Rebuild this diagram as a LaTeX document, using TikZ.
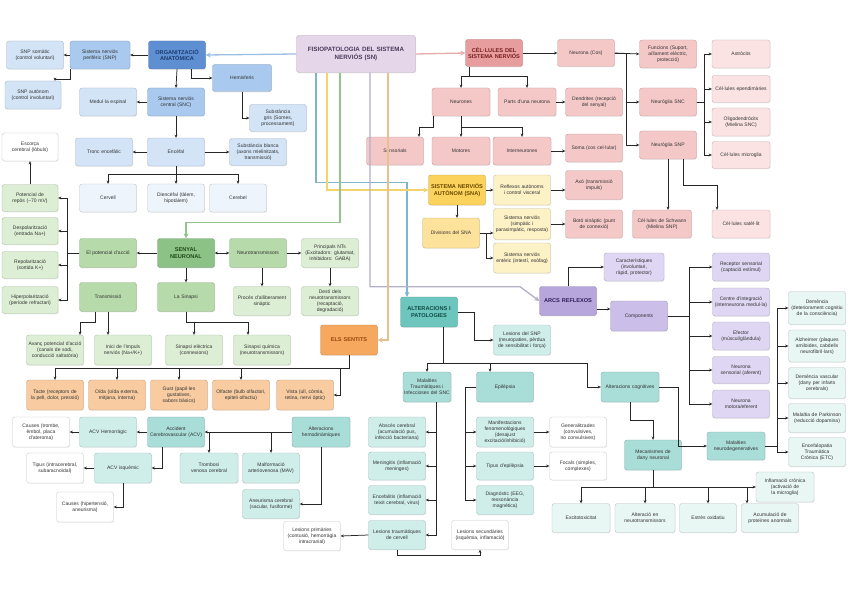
\documentclass[tikz,border=0pt]{standalone}
\usepackage{fontspec}
\setmainfont{Liberation Sans}
\usetikzlibrary{arrows.meta,shadows}
\hyphenpenalty=10000
\exhyphenpenalty=10000

\definecolor{bluedk}{HTML}{5E8FD3}
\definecolor{bluemd}{HTML}{A9C9EE}
\definecolor{bluelt}{HTML}{D3E4F7}
\definecolor{bluepl}{HTML}{EEF4FC}
\definecolor{titlebg}{HTML}{E5D6EA}
\definecolor{pinkdk}{HTML}{E79D9D}
\definecolor{pinkmd}{HTML}{F5C8C8}
\definecolor{pinklt}{HTML}{FBE3E3}
\definecolor{yeldk}{HTML}{FAD25C}
\definecolor{yelmd}{HTML}{FCE29A}
\definecolor{yellt}{HTML}{FDF1C6}
\definecolor{grndk}{HTML}{8DC286}
\definecolor{grnmd}{HTML}{B7DAAA}
\definecolor{grnlt}{HTML}{DCEED4}
\definecolor{orgdk}{HTML}{F5A85E}
\definecolor{orglt}{HTML}{F8CBA0}
\definecolor{purdk}{HTML}{B6A6DC}
\definecolor{purmd}{HTML}{CBBFEA}
\definecolor{purlt}{HTML}{DED6F2}
\definecolor{teldk}{HTML}{6CC6BE}
\definecolor{telmd}{HTML}{A9DDD7}
\definecolor{tellt}{HTML}{CFEEEA}
\definecolor{telpl}{HTML}{E8F6F4}
\definecolor{boxwh}{HTML}{FFFFFF}
\definecolor{lnblue}{HTML}{9CC0E4}
\definecolor{lnpink}{HTML}{E8AAAA}
\definecolor{lnteal}{HTML}{7FB5C8}
\definecolor{lnyel}{HTML}{F2D46E}
\definecolor{lngrn}{HTML}{93C48C}
\definecolor{lntan}{HTML}{E6C08E}
\definecolor{lngry}{HTML}{B3B0C9}
\definecolor{txnavy}{HTML}{1E3A6E}
\definecolor{txtitle}{HTML}{4A3A5A}
\definecolor{txred}{HTML}{7A1F1F}
\definecolor{txbrown}{HTML}{6B4A00}
\definecolor{txgreen}{HTML}{1F4A1A}
\definecolor{txorange}{HTML}{9A4A10}
\definecolor{txpurple}{HTML}{2D1F5E}
\definecolor{txteal}{HTML}{0F4A45}

\tikzset{
  bx/.style={draw=#1!78!black, fill=#1, rounded corners=2.5pt, line width=0.35pt,
    align=center, inner sep=1pt, text=black!80, font=\fontsize{5}{6}\selectfont,
    minimum width=57pt, minimum height=28pt, text width=53pt,
    drop shadow={opacity=0.12, shadow xshift=0.7pt, shadow yshift=-0.9pt}},
  hd/.style={font=\fontsize{5.6}{6.8}\selectfont\bfseries},
  arr/.style={->, line width=0.75pt, black!85},
  tl/.style={->, line width=1.3pt, >={Stealth[length=5pt,width=5pt]}},
}

\begin{document}
\begin{tikzpicture}[x=1pt,y=-1pt,>={Stealth[length=3.2pt,width=2.8pt]}]
    \fill[white] (0,0) rectangle (848,599);
    \useasboundingbox (0,0) rectangle (848,599);

    \node[bx=bluelt] (snpsom) at (35,55) {SNP somàtic\\(control voluntari)};
    \node[bx=bluemd, minimum width=60pt] (snp) at (100,55) {Sistema nerviós perifèric (SNP)};
    \node[bx=bluedk, hd, text=txnavy] (org) at (177,55) {ORGANITZACIÓ ANATÒMICA};
    \node[bx=titlebg, minimum width=119pt, text width=117pt, minimum height=37pt,
        font=\fontsize{6.2}{7.8}\selectfont\bfseries, text=txtitle] (title) at (356,54)
        {FISIOPATOLOGIA DEL SISTEMA\\NERVIÓS (SN)};
    \node[bx=bluelt, minimum width=56pt] (snpaut) at (33,95) {SNP autònom (control involuntari)};
    \node[bx=bluelt] (medul) at (108,102) {Medul·la espinal};
    \node[bx=bluemd] (snc) at (176,102) {Sistema nerviós central (SNC)};
    \node[bx=bluemd, minimum width=59pt, minimum height=27pt] (hemis) at (242,78) {Hemisferis};
    \node[bx=bluelt, minimum height=27pt] (gris) at (278,118) {Substància gris (Somes, processament)};
    \node[bx=bluelt, minimum height=27pt] (blanca) at (258,152) {Substància blanca (axons mielinitzats, transmissió)};
    \node[bx=bluelt] (encefal) at (176,152) {Encèfal};
    \node[bx=bluelt] (tronc) at (104,152) {Tronc encefàlic};
    \node[bx=boxwh, minimum width=56pt] (escorca) at (30,147) {Escorça cerebral (lòbuls)};
    \node[bx=bluepl] (cervell) at (108,198) {Cervell};
    \node[bx=bluepl] (dienc) at (176,198) {Diencèfal (tàlem, hipotàlem)};
    \node[bx=bluepl] (cerebel) at (238,198) {Cerebel};

    \node[bx=grnlt, minimum width=56pt, minimum height=27pt] (repos) at (30,198) {Potencial de repòs (−70 mV)};
    \node[bx=grnlt, minimum width=56pt, minimum height=27pt] (despol) at (30,231) {Despolarització (entrada Na+)};
    \node[bx=grnlt, minimum width=56pt, minimum height=27pt] (repol) at (30,265) {Repolarització (sortida K+)};
    \node[bx=grnlt, minimum width=56pt, minimum height=27pt] (hiper) at (30,300) {Hiperpolarització (període refractari)};
    \node[bx=grnmd, minimum height=29pt] (potencial) at (108,253) {El potencial d'acció};
    \node[bx=grndk, hd, text=txgreen, minimum height=29pt] (senyal) at (186,253) {SENYAL\\NEURONAL};
    \node[bx=grnmd, minimum height=29pt] (neurotr) at (258,253) {Neurotransmissors};
    \node[bx=grnlt, minimum height=29pt] (princ) at (330,253) {Principals NTs (Excitadors: glutamat, Inhibidors: GABA)};
    \node[bx=grnmd, minimum height=29pt] (transm) at (108,297) {Transmissió};
    \node[bx=grnmd, minimum height=29pt] (sinapsi) at (186,297) {La Sinapsi};
    \node[bx=grnlt, minimum height=29pt] (proces) at (262,301) {Procés d'alliberament sinàptic};
    \node[bx=grnlt, minimum height=29pt] (desti) at (330,301) {Destí dels neurotransmissors (recaptació, degradació)};
    \node[bx=grnlt, minimum height=30pt] (avanc) at (55,350) {Avanç potencial d'acció (canals de sodi, conducció saltatòria)};
    \node[bx=grnlt, minimum height=30pt] (inici) at (123,350) {Inici de l'impuls nerviós (Na+/K+)};
    \node[bx=grnlt, minimum height=30pt] (selec) at (194,350) {Sinapsi elèctrica (connexions)};
    \node[bx=grnlt, minimum height=30pt] (squim) at (262,350) {Sinapsi química (neurotransmissors)};

    \node[bx=orgdk, hd, text=txorange, minimum height=30pt] (senses) at (349,340) {ELS SENTITS};
    \node[bx=orglt, minimum height=30pt] (tacte) at (55,395) {Tacte (receptors de la pell, dolor, pressió)};
    \node[bx=orglt, minimum height=30pt] (oida) at (117,395) {Oïda (oïda externa, mitjana, interna)};
    \node[bx=orglt, minimum height=30pt] (gust) at (179,395) {Gust (papil·les gustatives, sabors bàsics)};
    \node[bx=orglt, minimum height=30pt] (olfacte) at (241,395) {Olfacte (bulb olfactori, epiteli olfactiu)};
    \node[bx=orglt, minimum height=30pt] (vista) at (305,395) {Vista (ull, còrnia, retina, nervi òptic)};

    \node[bx=pinkdk, hd, text=txred, minimum height=27pt] (cel) at (494,53) {CÈL·LULES DEL\\SISTEMA NERVIÓS};
    \node[bx=pinkmd, minimum height=27pt] (neurcos) at (586,53) {Neurona (Cos)};
    \node[bx=pinkmd] (funcions) at (668,54) {Funcions (Suport, aïllament elèctric, protecció)};
    \node[bx=pinklt, minimum width=58pt] (astro) at (741,54) {Astròcits};
    \node[bx=pinklt, minimum width=58pt, minimum height=27pt] (epend) at (741,89) {Cèl·lules ependimàries};
    \node[bx=pinklt, minimum width=58pt] (oligo) at (741,122) {Oligodendròcits (Mielina SNC)};
    \node[bx=pinklt, minimum width=58pt, minimum height=27pt] (micro) at (741,155) {Cèl·lules microglia};
    \node[bx=pinkmd] (gliasnc) at (668,102) {Neuròglia SNC};
    \node[bx=pinkmd] (gliasnp) at (668,145) {Neuròglia SNP};
    \node[bx=pinkmd, minimum width=58pt] (neurones) at (461,102) {Neurones};
    \node[bx=pinkmd, minimum width=58pt] (parts) at (527,102) {Parts d'una neurona};
    \node[bx=pinkmd] (dendr) at (594,102) {Dendrites (recepció del senyal)};
    \node[bx=pinkmd] (sensor) at (395,151) {Sensorials};
    \node[bx=pinkmd, minimum width=58pt] (motores) at (461,151) {Motores};
    \node[bx=pinkmd, minimum width=58pt] (inter) at (522,151) {Interneurones};
    \node[bx=pinkmd] (soma) at (594,148) {Soma (cos cel·lular)};
    \node[bx=pinkmd, minimum height=29pt] (axo) at (594,185) {Axó (transmissió impuls)};
    \node[bx=pinkmd] (boto) at (594,224) {Botó sinàptic (punt de connexió)};
    \node[bx=pinkmd, minimum width=59pt] (schwann) at (662,224) {Cèl·lules de Schwann (Mielina SNP)};
    \node[bx=pinklt, minimum width=58pt] (satel) at (741,224) {Cèl·lules satèl·lit};

    \node[bx=yeldk, hd, text=txbrown, minimum height=30pt] (sna) at (457,190) {SISTEMA NERVIÓS AUTÒNOM (SNA)};
    \node[bx=yellt, minimum height=30pt] (reflaut) at (522,190) {Reflexos autònoms i control visceral};
    \node[bx=yelmd, minimum height=30pt] (divis) at (451,233) {Divisions del SNA};
    \node[bx=yellt, minimum height=31pt] (simp) at (522,224) {Sistema nerviós (simpàtic i parasimpàtic, resposta)};
    \node[bx=yellt, minimum height=30pt] (enteric) at (522,258) {Sistema nerviós entèric (intestí, esòfag)};

    \node[bx=purlt, minimum width=60pt] (caract) at (634,267) {Característiques (involuntari, ràpid, protector)};
    \node[bx=purdk, hd, text=txpurple, minimum height=29pt] (arcs) at (568,301) {ARCS REFLEXOS};
    \node[bx=purmd, minimum height=30pt] (comp) at (639,316) {Components};
    \node[bx=purlt] (recep) at (741,267) {Receptor sensorial (captació estímul)};
    \node[bx=purlt] (centre) at (741,302) {Centre d'integració (interneurona medul·la)};
    \node[bx=purlt] (efector) at (741,336) {Efector (múscul/glàndula)};
    \node[bx=purlt, minimum height=27pt] (nsens) at (741,370) {Neurona sensorial (aferent)};
    \node[bx=purlt] (nmot) at (741,404) {Neurona motora/eferent};

    \node[bx=teldk, hd, text=txteal, minimum height=30pt] (alter) at (429,312) {ALTERACIONS I\\PATOLOGIES};
    \node[bx=tellt, minimum height=30pt] (lessnp) at (522,340) {Lesions del SNP (neuropaties, pèrdua de sensibilitat i força)};
    \node[bx=telmd, minimum width=48pt, text width=46pt, minimum height=30pt] (maltraum) at (427,387) {Malalties Traumàtiques i Infeccioses del SNC};
    \node[bx=telmd, minimum height=30pt] (epil) at (505,387) {Epilèpsia};
    \node[bx=telmd, minimum width=58pt, minimum height=30pt] (altcog) at (630,387) {Alteracions cognitives};
    \node[bx=telmd, minimum height=30pt] (mecan) at (653,455) {Mecanismes de dany neuronal};
    \node[bx=telmd, minimum width=58pt] (neurodeg) at (736,446) {Malalties neurodegeneratives};
    \node[bx=telpl, minimum width=58pt, minimum height=30pt] (inflam) at (785,487) {Inflamació crònica (activació de la microglia)};
    \node[bx=telpl, minimum width=58pt, minimum height=29pt] (excit) at (581,518) {Excitotoxicitat};
    \node[bx=telpl, minimum width=60pt, minimum height=29pt] (altneur) at (645,518) {Alteració en neurotransmissors};
    \node[bx=telpl, minimum height=29pt] (estres) at (708,518) {Estrès oxidatiu};
    \node[bx=telpl, minimum height=29pt] (acumul) at (770,518) {Acumulació de proteïnes anormals};
    \node[bx=telpl, minimum height=33pt] (demen) at (817,308) {Demència (deteriorament cognitiu de la consciència)};
    \node[bx=telpl, minimum height=32pt] (alzh) at (817,346) {Alzheimer (plaques amiloides, cabdells neurofibril·lars)};
    \node[bx=telpl, minimum height=31pt] (demvas) at (817,383) {Demència vascular (dany per infarts cerebrals)};
    \node[bx=telpl, minimum height=29pt] (parkin) at (817,418) {Malaltia de Parkinson (reducció dopamina)};
    \node[bx=telpl, minimum height=29pt] (etc) at (817,452) {Encefalopatia Traumàtica Crònica (ETC)};

    \node[bx=telmd, minimum height=30pt] (acv) at (176,432) {Accident Cerebrovascular (ACV)};
    \node[bx=tellt, minimum height=30pt] (acvhem) at (108,432) {ACV Hemorràgic};
    \node[bx=boxwh, minimum height=30pt] (causes1) at (41,432) {Causes (trombe, èmbol, placa d'ateroma)};
    \node[bx=tellt, minimum height=30pt] (acvisq) at (123,468) {ACV isquèmic};
    \node[bx=boxwh, minimum height=30pt] (tipusacv) at (55,468) {Tipus (intracerebral, subaracnoïdal)};
    \node[bx=boxwh, minimum height=30pt] (causes2) at (85,507) {Causes (hipertensió, aneurisma)};
    \node[bx=telmd, minimum width=58pt, minimum height=30pt] (hemod) at (321,432) {Alteracions hemodinàmiques};
    \node[bx=tellt, minimum width=58pt, minimum height=30pt] (trombosi) at (209,468) {Trombosi venosa cerebral};
    \node[bx=tellt, minimum height=30pt] (mav) at (271,468) {Malformació arteriovenosa (MAV)};
    \node[bx=tellt, minimum height=29pt] (aneur) at (271,504) {Aneurisma cerebral (sacular, fusiforme)};
    \node[bx=boxwh, minimum height=29pt] (lesprim) at (312,536) {Lesions primàries (contusió, hemorràgia intracranial)};
    \node[bx=tellt, minimum height=30pt] (absces) at (397,432) {Abscés cerebral (acumulació pus, infecció bacteriana)};
    \node[bx=tellt] (mening) at (397,466) {Meningitis (inflamació meninges)};
    \node[bx=tellt, minimum height=29pt] (encef) at (397,500) {Encefalitis (inflamació teixit cerebral, virus)};
    \node[bx=tellt, minimum height=29pt] (lestraum) at (397,535) {Lesions traumàtiques de cervell};
    \node[bx=boxwh, minimum height=29pt] (lessec) at (480,535) {Lesions secundàries (isquèmia, inflamació)};
    \node[bx=tellt, minimum height=30pt] (manif) at (505,432) {Manifestacions fenomenològiques (desajust excitació/inhibició)};
    \node[bx=tellt] (tipusep) at (505,466) {Tipus d'epilèpsia};
    \node[bx=tellt, minimum height=29pt] (diagn) at (505,500) {Diagnòstic (EEG, ressonància magnètica)};
    \node[bx=boxwh, minimum height=30pt] (generalit) at (578,432) {Generalitzades (convulsives, no convulsives)};
    \node[bx=boxwh] (focals) at (578,466) {Focals (simples, complexes)};

    \draw[tl, lnblue] (title.west) -- (org.east);
    \draw[tl, lnpink] (title.east) -- (cel.west);
    \draw[tl, lnteal] ([xshift=-40pt]title.south) -- ++(0,110) -| ([xshift=-22pt]alter.north);
    \draw[tl, lnyel] ([xshift=-29pt]title.south) |- (sna.west);
    \draw[tl, lngrn] ([xshift=-16pt]title.south) |- ([yshift=16pt]senyal.north) -- (senyal.north);
    \draw[tl, lngry] ([xshift=14pt]title.south) -- ++(0,214) -- ++(150,0) -- (arcs.west);
    \draw[tl, lntan] ([xshift=32pt]title.south) |- (senses.east);

    \draw[arr] (org.west) -- (snp.east);
    \draw[arr] (snp.west) -- (snpsom.east);
    \draw[arr] ([xshift=-30pt]snp.south) -- ++(0,10) -| ([xshift=22pt]snpaut.north);
    \draw[arr] (org.south) -- (snc.north);
    \draw[arr] ([xshift=14pt]org.south) |- (hemis.west);
    \draw[arr] (snc.west) -- (medul.east);
    \draw[arr] (snc.south) -- (encefal.north);
    \draw[arr] (encefal.west) -- (tronc.east);
    \draw[arr] (encefal.east) -- (blanca.west);
    \draw[arr] (hemis.south) |- (gris.west);
    \foreach \n in {cervell,cerebel}
        \draw[arr] (encefal.south) -- ++(0,8) -| (\n.north);
    \draw[arr] (encefal.south) -- (dienc.north);
    \draw[arr] (repos.north) -- (escorca.south);

    \draw[arr] (senyal.west) -- (potencial.east);
    \draw[arr, <->] (senyal.east) -- (neurotr.west);
    \draw[arr] (neurotr.east) -- (princ.west);
    \draw[arr] (neurotr.south -| proces.north) -- (proces.north);
    \draw[arr] (princ.south) -- (desti.north);
    \draw[arr] (senyal.south) -- (sinapsi.north);
    \foreach \n in {repos,despol,repol,hiper}
        \draw[arr] (potencial.west) -- ++(-12,0) |- (\n.east);
    \draw[arr] ([xshift=-13pt]transm.south) -- ++(0,11) -| ([xshift=25pt]avanc.north);
    \draw[arr] (transm.south) -- (transm.south |- inici.north);
    \draw[arr] (sinapsi.south) -- ++(0,11) -| (selec.north);
    \draw[arr] (sinapsi.south) -- ++(0,11) -| ([xshift=-14pt]squim.north);

    \foreach \n in {tacte,oida,gust,olfacte}
        \draw[arr] (senses.south) -- ++(0,13) -| (\n.north);
    \draw[arr] (senses.south) -- ++(0,13) -- ++(-9,0) |- (vista.east);

    \draw[arr] (cel.east) -- (neurcos.west);
    \draw[arr] (neurcos.east) -- (funcions.west);
    \foreach \n in {gliasnc,gliasnp}
        \draw[arr] (neurcos.east) -- ++(12,0) |- (\n.west);
    \foreach \n in {astro,epend,oligo,micro}
        \draw[arr] (gliasnc.east) -- ++(8,0) |- (\n.west);
    \draw[arr] (gliasnp.south) -- (gliasnp.south |- schwann.north);
    \draw[arr] ([xshift=15pt]gliasnp.south) -- ++(0,26) -| ([xshift=-24pt]satel.north);
    \foreach \n in {neurones,parts}
        \draw[arr] ([xshift=4pt]cel.south west) -- ++(0,10) -| (\n.north);
    \draw[arr] (parts.east) -- (dendr.west);
    \draw[arr] (inter.east) -- (inter.east -| soma.west);
    \draw[arr] (reflaut.east) -- (reflaut.east -| axo.west);
    \draw[arr] (simp.east) -- (simp.east -| boto.west);
    \draw[arr] ([xshift=-28pt]neurones.south) -- ++(0,11) -| ([xshift=24pt]sensor.north);
    \draw[arr] (neurones.south) -- (motores.north);
    \draw[arr] (neurones.south) -- ++(0,11) -| (inter.north);

    \draw[arr] (sna.east) -- (reflaut.west);
    \draw[arr] (sna.south) -- (sna.south |- divis.north);
    \draw[arr] (divis.east) -- (divis.east -| simp.west);
    \draw[arr] (divis.east) -- ++(7,0) |- (enteric.west);

    \draw[arr] (arcs.north) |- (caract.west);
    \draw[arr] ([yshift=-8pt]arcs.east) -- ([yshift=-8pt]arcs.east -| comp.west);
    \foreach \n in {recep,centre,efector,nsens,nmot}
        \draw[arr] (comp.east) -- ++(22,0) |- (\n.west);

    \draw[arr] ([xshift=14pt]alter.south) -- ++(0,36) -| (maltraum.north);
    \draw[arr] ([xshift=14pt]alter.south) -- ++(0,36) -| ([xshift=-15pt]epil.north);
    \draw[arr] ([xshift=14pt]alter.south) -- ++(0,36) -- ++(144,0) |- (altcog.west);
    \draw[arr] (alter.east) -- ++(17,0) |- (lessnp.west);
    \draw[arr] (altcog.south) -- ++(0,18) -| (mecan.north);
    \draw[arr] (altcog.east) -- ++(19,0) |- (neurodeg.west);
    \foreach \n in {demen,alzh,demvas,parkin,etc}
        \draw[arr] (neurodeg.east) -- ++(12,0) |- (\n.west);
    \draw[arr] (mecan.south) |- (inflam.west);
    \foreach \n in {excit,altneur,estres}
        \draw[arr] (mecan.south) -- ++(0,17) -| (\n.north);
    \draw[arr] (mecan.south) -- ++(0,17) -| ([xshift=-23pt]acumul.north);
    \foreach \n in {absces,mening,encef,lestraum}
        \draw[arr] ([xshift=9pt]maltraum.south) |- (\n.east);
    \foreach \n in {manif,tipusep,diagn}
        \draw[arr] (epil.west) -- ++(-11,0) |- (\n.west);
    \draw[arr] (manif.east) -- (generalit.west);
    \draw[arr] (tipusep.east) -- (focals.west);
    \draw[arr] (lestraum.west) -- (lesprim.east);
    \draw[arr] (lestraum.south) -- ++(0,6) -| (lessec.south);

    \draw[arr] (hemod.west) -- (acv.east);
    \draw[arr] (hemod.west -| trombosi.north) -- (trombosi.north);
    \draw[arr] (hemod.west -| mav.north) -- (mav.north);
    \draw[arr] (hemod.south) |- (aneur.east);
    \draw[arr] (acv.west) -- (acvhem.east);
    \draw[arr] ([xshift=-14pt]acv.south) |- (acvisq.east);
    \draw[arr] (acvhem.west) -- (causes1.east);
    \draw[arr] (acvisq.west) -- (tipusacv.east);
    \draw[arr] (acvisq.south) |- (causes2.east);
\end{tikzpicture}
\end{document}
